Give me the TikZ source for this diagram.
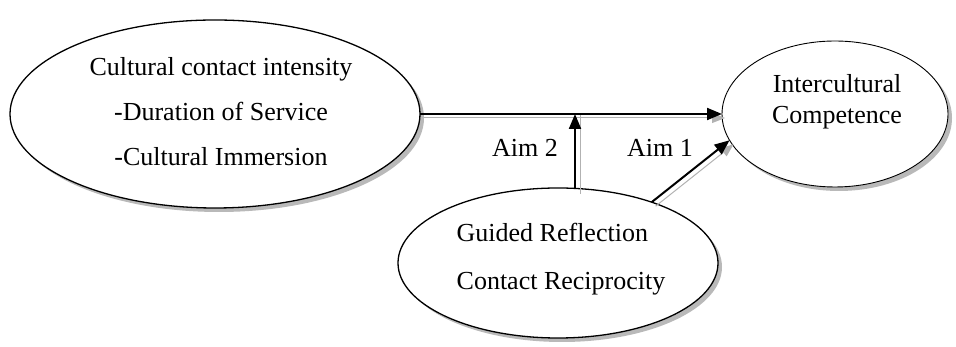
\documentclass[tikz,border=0pt]{standalone}
\usepackage{fontspec}
\setmainfont{Liberation Serif}
\usetikzlibrary{shapes.geometric,arrows.meta,shadows}
\begin{document}
\begin{tikzpicture}[x=1pt,y=1pt,
  ellbox/.style={ellipse, draw=black, line width=1.3pt, fill=white, inner sep=0pt, outer sep=0pt,
    drop shadow={shadow xshift=4pt, shadow yshift=-4pt, fill=gray!55, opacity=1}},
  txt/.style={inner sep=0pt, font=\fontsize{26}{31}\selectfont},
  conn/.style={line width=2pt, -{Triangle[length=15pt,width=12pt]}},
  connshadow/.style={line width=1pt, gray!60, -{Triangle[length=13pt,width=10pt]}}]
\useasboundingbox (0,0) rectangle (956,347);
% ellipses
\node[ellbox, minimum width=410pt, minimum height=188pt] (L) at (215,233) {};
\node[ellbox, line width=0.9pt, minimum width=226pt, minimum height=146pt] (R) at (835,233) {};
\node[ellbox, minimum width=320pt, minimum height=150pt] (B) at (558,84) {};
% texts
\node[txt, align=center, font=\fontsize{26}{45}\selectfont] (Lt) at (221,235)
  {Cultural contact intensity\\-Duration of Service\\-Cultural Immersion};
\node[txt, align=center] (Rt) at (837,245) {Intercultural\\Competence};
\node[txt, align=left, font=\fontsize{26}{48}\selectfont] (Bt) at (561,88)
  {Guided Reflection\\Contact Reciprocity};
\node[txt] (A2) at (525,199) {Aim 2};
\node[txt] (A1) at (660,199) {Aim 1};
% connectors
\coordinate (J) at (575,233);
\draw[connshadow] ([xshift=2pt,yshift=-4pt]L.east) -- ([xshift=3pt,yshift=-4pt]R.west);
\draw[connshadow, -] ([xshift=5pt,yshift=-6pt]J |- B.north) -- ([xshift=5pt]J);
\draw[connshadow] ([xshift=4pt,yshift=-4pt]B.33.8) -- ([xshift=4pt,yshift=-4pt]R.194);
\draw[conn] (L.east) -- (R.west);
\draw[conn] (J |- B.north) -- (J);
\draw[conn] (B.33.8) -- (R.194);
\end{tikzpicture}
\end{document}
